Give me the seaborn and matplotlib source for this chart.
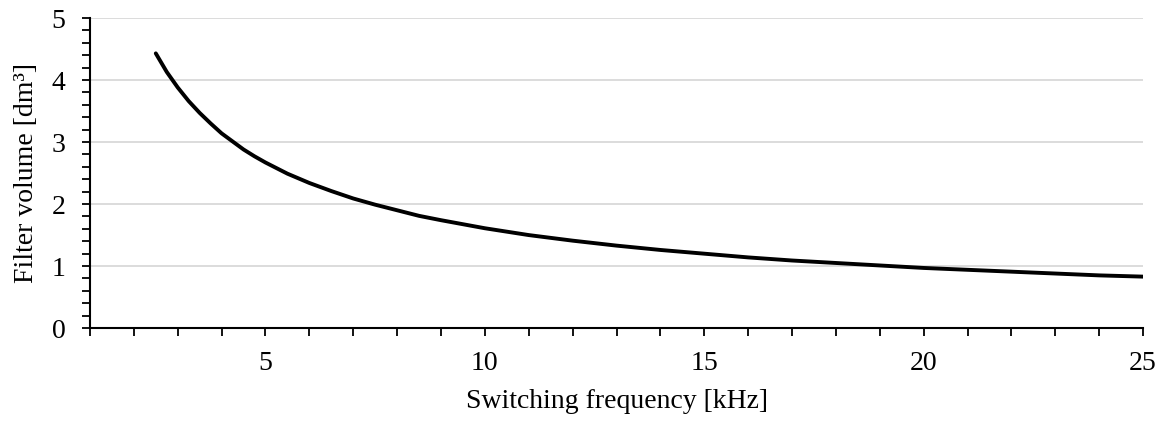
import matplotlib
matplotlib.use("Agg")
import matplotlib.pyplot as plt
from matplotlib.ticker import MultipleLocator
import seaborn as sns
import pandas as pd

freq_khz = [2.5, 2.75, 3, 3.25, 3.5, 3.75, 4, 4.25, 4.5, 4.75, 5, 5.5, 6, 6.5,
            7, 7.5, 8, 8.5, 9, 10, 11, 12, 13, 14, 15, 16, 17, 18, 19, 20, 21,
            22, 23, 24, 25]
volume_dm3 = [4.43, 4.13, 3.88, 3.66, 3.47, 3.30, 3.14, 3.01, 2.88, 2.77, 2.67,
              2.49, 2.34, 2.21, 2.09, 1.99, 1.90, 1.81, 1.74, 1.61, 1.50, 1.41,
              1.33, 1.26, 1.20, 1.14, 1.09, 1.05, 1.01, 0.97, 0.94, 0.91, 0.88,
              0.85, 0.83]
x_major = [5, 10, 15, 20, 25]
y_major = [0, 1, 2, 3, 4, 5]

df = pd.DataFrame({"f": freq_khz, "v": volume_dm3})

sns.set_theme(style="white")
plt.rcParams["font.family"] = ["Liberation Serif", "DejaVu Serif"]

fig = plt.figure(figsize=(11.64, 4.25), dpi=100)
ax = fig.add_axes([0.0773, 0.228, 0.9047, 0.7296])

sns.lineplot(data=df, x="f", y="v", ax=ax, color="black", linewidth=2.8,
             solid_capstyle="round", solid_joinstyle="round")

ax.set_xlim(1, 25)
ax.set_ylim(0, 5)
ax.set_xticks(x_major)
ax.set_xticklabels([str(v) for v in x_major])
ax.xaxis.set_minor_locator(MultipleLocator(1))
ax.set_yticks(y_major)
ax.set_yticklabels([str(v) for v in y_major])
ax.yaxis.set_minor_locator(MultipleLocator(0.2))

for y in y_major[1:]:
    ax.axhline(y, color="#d9d9d9", linewidth=1.3, zorder=0)

for side in ["top", "right"]:
    ax.spines[side].set_visible(False)
for side in ["left", "bottom"]:
    ax.spines[side].set_color("black")
    ax.spines[side].set_linewidth(1.5)

ax.tick_params(axis="both", which="both", direction="out", color="black",
               width=1.3, labelsize=20, labelcolor="black")
ax.tick_params(axis="x", which="both", length=5.5, pad=11)
ax.tick_params(axis="y", which="both", length=5.5, pad=12)
ax.tick_params(bottom=True, left=True, which="both")

ax.set_xlabel("Switching frequency [kHz]", fontsize=20, color="black", labelpad=9)
ax.set_ylabel("Filter volume [dm³]", fontsize=20, color="black", labelpad=9)

fig.savefig("out.png", dpi=100)
